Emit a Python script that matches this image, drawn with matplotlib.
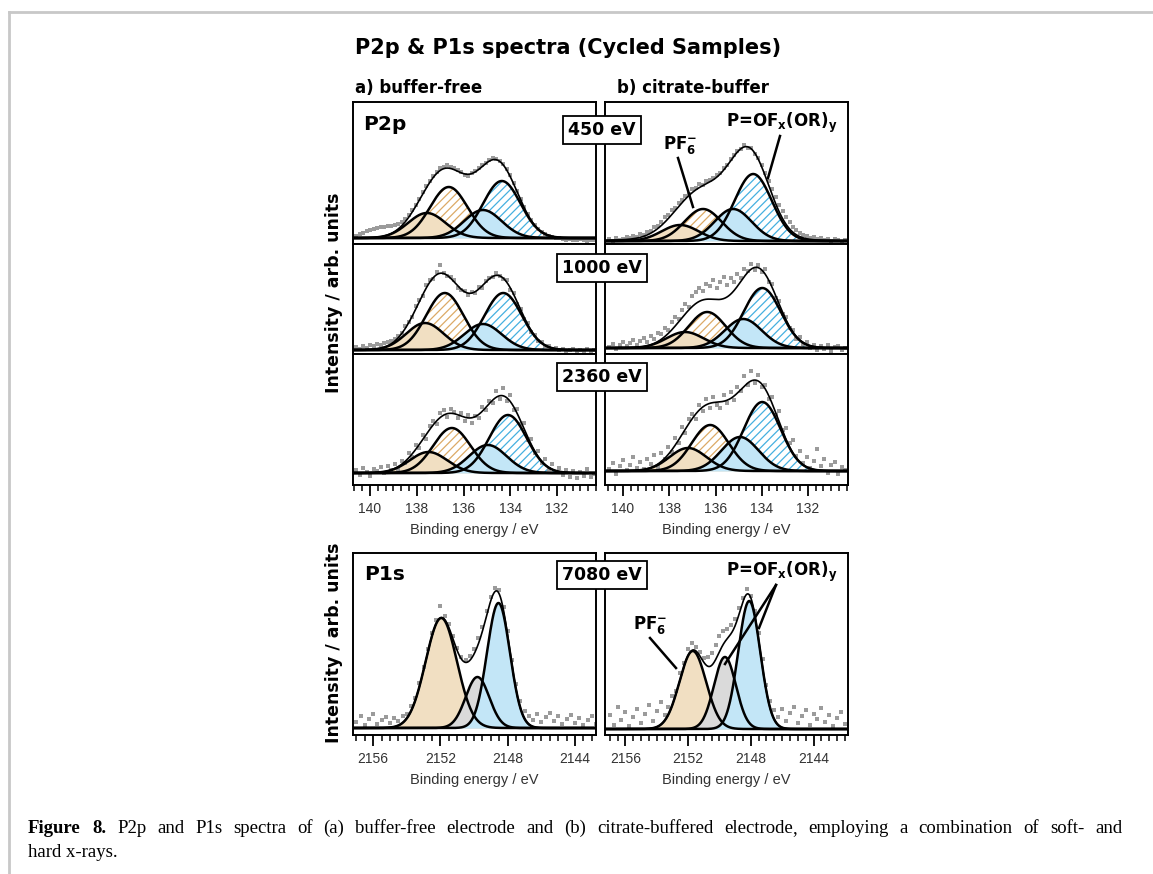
import numpy as np
import matplotlib.pyplot as plt
from matplotlib.lines import Line2D
from matplotlib.ticker import MultipleLocator

plt.rcParams['font.family'] = ['Liberation Sans', 'DejaVu Sans']
plt.rcParams['hatch.linewidth'] = 0.9
plt.rcParams['mathtext.fontset'] = 'dejavusans'

W, H = 1153, 874
BOLD = 'DejaVu Sans'

TAN, TAN_H = '#f1dfc2', '#dcaa66'
BLUE, BLUE_H = '#c3e6f7', '#45b0e0'
GREY = '#dadada'
DOT = '#9b9b9b'

# P2p fit components: PF6- (2p1/2, 2p3/2), P=OFx(OR)y (2p1/2, 2p3/2)
p2p_labels = ['450 eV', '1000 eV', '2360 eV']
p2p_center_a = [[137.57, 136.63, 135.17, 134.36],
                [137.65, 136.80, 135.17, 134.30],
                [137.50, 136.50, 134.96, 134.10]]
p2p_height_a = [[25, 51, 28, 57],
                [27, 57, 26, 57],
                [21, 45, 28, 58]]
p2p_center_b = [[137.53, 136.54, 135.24, 134.37],
                [137.32, 136.36, 134.80, 133.98],
                [137.19, 136.23, 134.94, 133.98]]
p2p_height_b = [[16, 32, 32, 67],
                [16, 36, 29, 60],
                [23, 46, 34, 69]]
p2p_sigma = [0.8, 0.8, 0.8, 0.8]
p2p_bg_a = [(136.0, 0, 2.0), (136.0, 0, 2.0), (136.0, 0, 2.0)]
p2p_bg_b = [(136.0, 6, 2.2), (136.0, 0, 2.0), (136.0, 0, 2.0)]

# P1s fit components: PF6-, grey, P=OFx(OR)y
p1s_center_a = [2151.95, 2149.8, 2148.55]
p1s_height_a = [110, 51, 125]
p1s_sigma_a = [0.93, 0.7, 0.68]
p1s_center_b = [2151.7, 2149.65, 2148.1]
p1s_height_b = [78, 72, 128]
p1s_sigma_b = [0.85, 0.7, 0.7]

# measured points (binding energy grid, intensity in arb. units)
p2p_be = np.round(np.arange(140.6, 130.35, -0.15), 2)
p1s_be = np.round(np.arange(2157.0, 2141.9, -0.25), 2)

p2p_data_a = [
    [2, 4, 5, 7, 8, 9, 10, 11, 11, 12, 12, 13, 14, 16, 19, 23, 28, 33, 39, 46, 52, 57, 62,
     66, 70, 71, 73, 71, 70, 68, 66, 63, 62, 65, 67, 70, 73, 75, 78, 80, 79, 77, 74, 69, 63,
     55, 47, 39, 31, 24, 18, 13, 9, 6, 4, 2, 1, 0, 0, -1, -2, -1, -2, -2, -1, -2, -3, -2, -2],
    [3, 1, 4, 2, 5, 4, 6, 5, 7, 8, 9, 11, 14, 17, 24, 28, 33, 44, 50, 54, 65, 70, 71, 78,
     85, 77, 74, 73, 70, 62, 60, 59, 55, 58, 57, 63, 62, 69, 72, 73, 77, 74, 71, 70, 60, 57,
     46, 41, 31, 27, 18, 15, 9, 8, 4, 4, 1, 2, 0, 1, -1, 0, 1, -1, 0, -2, 1, -1, 0],
    [3, -2, 5, 1, -3, 4, 2, 6, 0, 7, 3, 9, 4, 12, 10, 20, 16, 28, 25, 38, 34, 47, 52, 49,
     60, 63, 56, 64, 61, 55, 60, 52, 58, 50, 57, 55, 66, 63, 72, 70, 82, 74, 85, 72, 78, 63,
     64, 49, 50, 33, 34, 20, 22, 10, 14, 4, 9, 1, 5, -2, 3, -4, 2, -5, 1, -3, 4, -4, -1],
]
p2p_data_b = [
    [2, 0, 3, 1, 2, 4, 3, 5, 4, 7, 6, 9, 10, 14, 15, 19, 24, 26, 31, 33, 38, 41, 45, 47,
     52, 53, 57, 56, 60, 61, 63, 66, 68, 73, 76, 82, 86, 90, 92, 96, 93, 93, 87, 83, 76, 68,
     60, 52, 44, 36, 30, 24, 19, 14, 11, 8, 6, 5, 3, 4, 2, 3, 1, 2, 0, 2, 1, -1, 1],
    [1, 4, -1, 3, 6, 2, 5, 8, 3, 7, 10, 6, 12, 9, 15, 14, 20, 18, 26, 31, 29, 38, 44, 41,
     52, 56, 60, 57, 64, 62, 68, 60, 66, 71, 63, 70, 66, 74, 70, 79, 77, 84, 78, 83, 76, 79,
     66, 64, 50, 47, 34, 31, 20, 18, 9, 11, 4, 6, 0, 3, -2, 2, -1, 3, -3, 1, 2, -2, 0],
    [2, 8, -3, 5, 11, 1, 6, 14, 3, 9, 2, 12, 7, 16, 4, 18, 12, 24, 19, 33, 28, 44, 38, 52,
     57, 52, 66, 60, 72, 63, 74, 66, 63, 76, 68, 79, 71, 84, 80, 95, 86, 100, 88, 96, 84, 86,
     72, 74, 56, 60, 41, 43, 28, 31, 15, 20, 8, 14, 3, 10, 22, 5, 12, -2, 6, 9, -3, 4, 1],
]
p1s_data_a = [6, 12, 3, 9, 14, 4, 8, 11, 5, 10, 7, 12, 14, 22, 30, 45, 61, 79, 95, 108, 122,
              112, 104, 92, 80, 71, 68, 72, 79, 90, 101, 117, 131, 140, 138, 121, 97, 68, 44,
              27, 17, 12, 8, 14, 6, 11, 15, 7, 12, 4, 9, 13, 5, 10, 3, 8, 12, 4, 9, 6, 10]
p1s_data_b = [14, 4, 22, 9, 17, 3, 12, 20, 6, 15, 24, 8, 18, 27, 14, 22, 33, 38, 56, 66, 80,
              86, 82, 77, 71, 72, 76, 84, 93, 98, 100, 104, 110, 121, 131, 140, 133, 118, 96,
              70, 44, 28, 19, 12, 20, 8, 16, 22, 6, 13, 19, 4, 15, 10, 21, 7, 14, 3, 11, 17, 5]

p2p_xlim = [(140.73, 130.33), (140.78, 130.27)]
p2p_ylim = [[(-6, 136), (-4, 106), (-12, 119)], [(-3, 139), (-6, 104), (-14, 117)]]
p1s_xlim = [(2157.2, 2142.75), (2157.3, 2141.8)]
p1s_ylim = [(-7, 175), (-6, 176)]


def gauss(x, c, h, s):
    return h * np.exp(-(x - c) ** 2 / (2 * s ** 2))


fig = plt.figure(figsize=(W / 100, H / 100), dpi=100)


def px_axes(x0, x1, y0, y1):
    return fig.add_axes([x0 / W, 1 - y1 / H, (x1 - x0) / W, (y1 - y0) / H])


def style(ax, bottom, major, minor):
    for sp in ax.spines.values():
        sp.set_linewidth(1.4)
    ax.set_yticks([])
    if bottom:
        ax.xaxis.set_major_locator(MultipleLocator(major))
        ax.xaxis.set_minor_locator(MultipleLocator(minor))
        ax.tick_params(axis='x', which='major', direction='out', length=8, width=1.3,
                       labelsize=10, labelcolor='#333333', pad=4)
        ax.tick_params(axis='x', which='minor', direction='out', length=4.5, width=1.1)
        ax.set_xlabel('Binding energy / eV', fontsize=10.5, color='#333333', labelpad=5)
    else:
        ax.tick_params(axis='x', which='both', bottom=False, labelbottom=False)


cols = [(353, 596), (605, 848)]
rows = [(102, 244), (244, 354), (354, 485)]

for ci, (x0, x1) in enumerate(cols):
    centers = [p2p_center_a, p2p_center_b][ci]
    heights = [p2p_height_a, p2p_height_b][ci]
    bgs = [p2p_bg_a, p2p_bg_b][ci]
    datas = [p2p_data_a, p2p_data_b][ci]
    for ri, (y0, y1) in enumerate(rows):
        ax = px_axes(x0, x1, y0, y1)
        xs = np.linspace(p2p_xlim[ci][0], p2p_xlim[ci][1], 800)
        comps = [gauss(xs, c, h, s) for c, h, s in zip(centers[ri], heights[ri], p2p_sigma)]
        # hatched 2p3/2 first, plain 2p1/2 on top
        ax.fill_between(xs, 0, comps[1], facecolor='white', edgecolor=TAN_H, hatch='////', lw=0, zorder=1)
        ax.fill_between(xs, 0, comps[3], facecolor='white', edgecolor=BLUE_H, hatch='////', lw=0, zorder=1)
        ax.fill_between(xs, 0, comps[0], color=TAN, lw=0, zorder=1.2)
        ax.fill_between(xs, 0, comps[2], color=BLUE, lw=0, zorder=1.2)
        for y in comps:
            ax.plot(xs, y, color='k', lw=1.8, zorder=3)
        env = sum(comps) + gauss(xs, *bgs[ri])
        ax.plot(xs, env, color='k', lw=1.2, zorder=3)
        ax.scatter(p2p_be, datas[ri], marker='s', s=5, c=DOT, lw=0, zorder=2)
        ax.set_xlim(*p2p_xlim[ci])
        ax.set_ylim(*p2p_ylim[ci][ri])
        style(ax, ri == 2, 2, 2 / 6)

    ax = px_axes(x0, x1, 553, 735)
    cs = [p1s_center_a, p1s_center_b][ci]
    hs = [p1s_height_a, p1s_height_b][ci]
    ss = [p1s_sigma_a, p1s_sigma_b][ci]
    xs = np.linspace(p1s_xlim[ci][0], p1s_xlim[ci][1], 800)
    comps = [gauss(xs, c, h, s) for c, h, s in zip(cs, hs, ss)]
    for y, col in zip(comps, [TAN, GREY, BLUE]):
        ax.fill_between(xs, 0, y, color=col, lw=0, zorder=1)
    for y in comps:
        ax.plot(xs, y, color='k', lw=1.8, zorder=3)
    ax.plot(xs, sum(comps), color='k', lw=1.2, zorder=3)
    ax.scatter(p1s_be, [p1s_data_a, p1s_data_b][ci], marker='s', s=5, c=DOT, lw=0, zorder=2)
    ax.set_xlim(*p1s_xlim[ci])
    ax.set_ylim(*p1s_ylim[ci])
    style(ax, True, 4, 0.5)


def ftext(x, y, s, **kw):
    return fig.text(x / W, 1 - y / H, s, **kw)


def fline(x0, y0, x1, y1, lw=1.8, color='k'):
    fig.add_artist(Line2D([x0 / W, x1 / W], [1 - y0 / H, 1 - y1 / H], color=color, lw=lw,
                          transform=fig.transFigure))


ftext(355, 48, 'P2p & P1s spectra (Cycled Samples)', family=BOLD, weight='bold', fontsize=15, va='center')
ftext(355, 88, 'a) buffer-free', family=BOLD, weight='bold', fontsize=12, va='center')
ftext(617, 88, 'b) citrate-buffer', family=BOLD, weight='bold', fontsize=12, va='center')
ftext(363, 125, 'P2p', family=BOLD, weight='bold', fontsize=14.5, va='center')
ftext(364, 574, 'P1s', family=BOLD, weight='bold', fontsize=14.5, va='center')
ftext(334, 293, 'Intensity / arb. units', family=BOLD, weight='bold', fontsize=12.5,
      rotation=90, ha='center', va='center')
ftext(334, 643, 'Intensity / arb. units', family=BOLD, weight='bold', fontsize=12.5,
      rotation=90, ha='center', va='center')

for lab, yc in zip(p2p_labels + ['7080 eV'], [130, 268, 377, 575]):
    ftext(602, yc, lab, family=BOLD, weight='bold', fontsize=12.5, ha='center', va='center',
          bbox=dict(boxstyle='square,pad=0.3', fc='white', ec='black', lw=1.3))

pf6 = 'PF$_\\mathbf{6}^\\mathbf{-}$'
pox = 'P=OF$_\\mathbf{x}$(OR)$_\\mathbf{y}$'
ftext(680, 145, pf6, family=BOLD, weight='bold', fontsize=12, ha='center', va='center')
fline(678, 158, 693, 207)
ftext(782, 123, pox, family=BOLD, weight='bold', fontsize=12, ha='center', va='center')
fline(780, 136, 768, 178)
ftext(650, 625, pf6, family=BOLD, weight='bold', fontsize=12, ha='center', va='center')
fline(650, 638, 676, 668)
ftext(782, 572, pox, family=BOLD, weight='bold', fontsize=12, ha='center', va='center')
fline(776, 585, 725, 664)
fline(776, 585, 759, 628)

# caption, first line justified to the column width
caption_1 = ('Figure 8. P2p and P1s spectra of (a) buffer-free electrode and (b) citrate-buffered '
             'electrode, employing a combination of soft- and')
caption_2 = 'hard x-rays.'
renderer = fig.canvas.get_renderer()
words = []
for k, wd in enumerate(caption_1.split()):
    kw = dict(family='Liberation Serif', fontsize=13.5, weight='bold' if k < 2 else 'normal',
              va='baseline')
    if wd.endswith(','):
        t = ftext(28, 833, wd[:-1], **kw)
        tw = t.get_window_extent(renderer).width
        c = ftext(28, 833, ',', **kw)
        words.append((t, tw, c))
        words[-1] = (t, tw + c.get_window_extent(renderer).width, (c, tw))
    else:
        t = ftext(28, 833, wd, **kw)
        words.append((t, t.get_window_extent(renderer).width, None))
gap = (1122 - 28 - sum(w for _, w, _ in words)) / (len(words) - 1)
xpos = 28
for t, w, extra in words:
    t.set_x(round(xpos) / W)
    if extra is not None:
        extra[0].set_x(round(xpos + extra[1]) / W)
    xpos += w + gap
ftext(28, 857, caption_2, family='Liberation Serif', fontsize=13.5, va='baseline')

fline(9, 874, 9, 12, lw=2, color='#c8c8c8')
fline(9, 12, 1153, 12, lw=2, color='#c8c8c8')

fig.savefig('out.png', dpi=100)
